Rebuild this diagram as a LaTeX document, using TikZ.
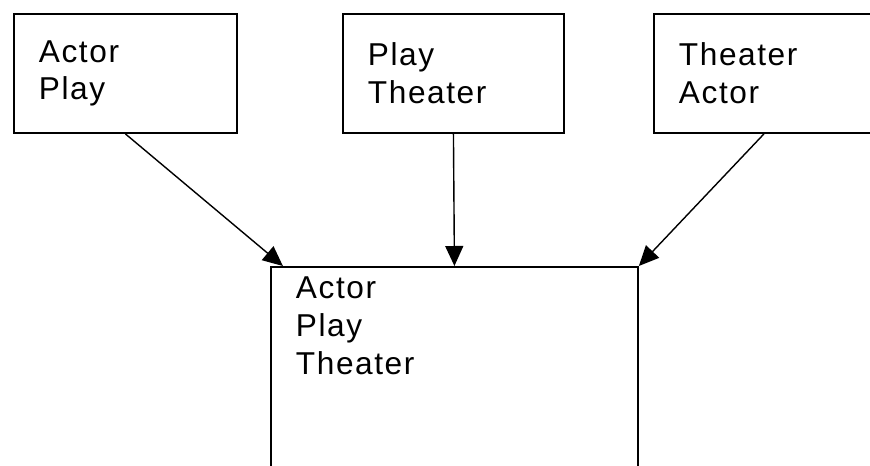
\documentclass[tikz,border=0pt]{standalone}
\usepackage{fontspec}
\setmainfont{Liberation Sans}[LetterSpace=5]
\usetikzlibrary{arrows.meta, calc}
\tikzstyle{boite} = [rectangle, draw = black, line width = 1.1pt, align = left, inner xsep = 0.5cm, inner ysep = 0pt, minimum height = 2.38cm, font = \fontsize{18}{21.5}\selectfont]
\tikzstyle{fleche} = [-{Triangle[length = 0.4cm, width = 0.36cm]}, line width = 0.8pt]

\begin{document}
\begin{tikzpicture}[x = 0.02cm, y = -0.02cm]
\useasboundingbox (0,0) rectangle (870,466);
\clip (0,0) rectangle (870,466);
\node (ap) [boite, anchor = north west, minimum width = 4.46cm, text width = 3.46cm] at (13,13) {Actor\\Play};
\node (pt) [boite, anchor = north west, minimum width = 4.42cm, text width = 3.42cm] at (342,13) {Play\\Theater};
\node (ta) [boite, anchor = north west, minimum width = 4.4cm, text width = 3.4cm] at (653,13) {Theater\\Actor};
\node (apt) [boite, anchor = north west, minimum width = 7.34cm, text width = 6.34cm, inner ysep = 0.2cm, text depth = 5cm] at (270,266) {Actor\\Play\\Theater};
\draw[fleche] (ap.south) -- ($(apt.north west)!0.035!(apt.north east)$);
\draw[fleche] (pt.south) -- (apt.north);
\draw[fleche] (ta.south) -- (apt.north east);
\end{tikzpicture}
\end{document}
